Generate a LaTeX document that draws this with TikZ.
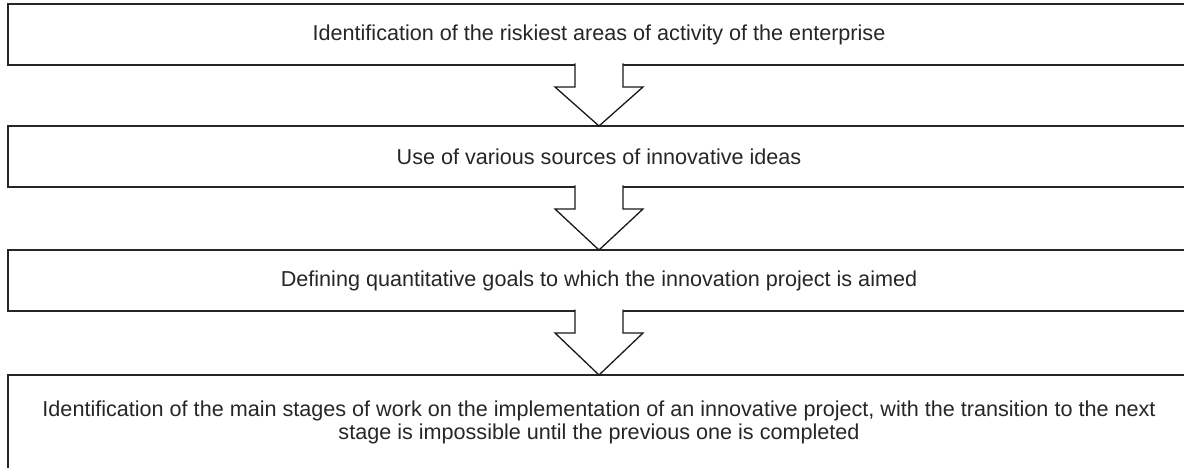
\documentclass[tikz,border=0pt]{standalone}
\usepackage{fontspec}
\setmainfont{Liberation Sans}
\usetikzlibrary{positioning,calc}
\tikzset{
    stage/.style={
           rectangle,
           draw=black!85, line width=2pt,
           minimum width=1182pt,
           minimum height=61pt,
           inner sep=0pt, outer sep=0pt,
           text=black!85,
           font=\fontsize{21.6}{22.5}\selectfont,
           align=center,
           },
    blockarrow/.style={
           draw=black!90, line width=1.3pt,
           fill=white, line join=miter,
           },
}
% open block arrow from the bottom of one stage to the top of the next
\newcommand{\stagearrow}[2]{%
  \path[blockarrow] ($(#1.south)+(-24,-1.5)$) -- ($(#1.south)+(-24,22)$)
    -- ($(#1.south)+(-44,22)$) -- (#2.north)
    -- ($(#1.south)+(44,22)$) -- ($(#1.south)+(24,22)$)
    -- ($(#1.south)+(24,-1.5)$);}

\begin{document}
\begin{tikzpicture}[x=1pt,y=-1pt]

  \clip (0,0) rectangle (1184,468);

  \node[stage] (b1) at (599,34.5) {Identification of the riskiest areas of activity of the enterprise};
  \node[stage] (b2) [below=61pt of b1] {Use of various sources of innovative ideas};
  \node[stage] (b3) [below=63pt of b2] {Defining quantitative goals to which the innovation project is aimed};
  \node[stage, minimum height=95pt] (b4) [below=64pt of b3]
    {Identification of the main stages of work on the implementation of an innovative project, with the transition to the next\\
     stage is impossible until the previous one is completed};

  \stagearrow{b1}{b2}
  \stagearrow{b2}{b3}
  \stagearrow{b3}{b4}

\end{tikzpicture}
\end{document}
